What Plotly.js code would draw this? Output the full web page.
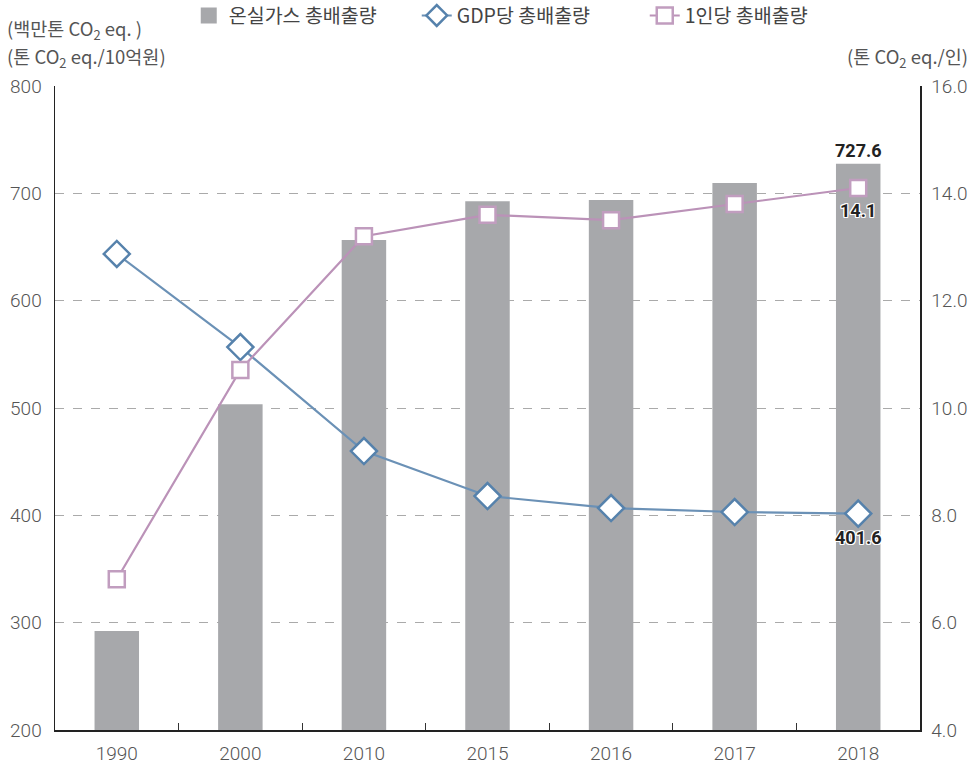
<!DOCTYPE html>
<html>
<head>
<meta charset="utf-8">
<script src="https://cdn.plot.ly/plotly-3.0.1.min.js"></script>
<style>
html,body{margin:0;padding:0;background:#fff;}
#chart{width:978px;height:768px;}
</style>
</head>
<body>
<div id="chart"></div>
<script>
const years = ['1990','2000','2010','2015','2016','2017','2018'];
const totalEmissions = [292.2, 503.5, 656.5, 692.6, 693.7, 709.6, 727.6];
const gdpIntensity = [643.5, 556.8, 459.9, 418.0, 406.8, 403.1, 401.6];
const perCapita = [6.81, 10.71, 13.2, 13.6, 13.5, 13.8, 14.1];
const leftTicks = [200, 300, 400, 500, 600, 700, 800];
const rightTicks = [4, 6, 8, 10, 12, 14, 16];
const rightTickText = ['4.0','6.0','8.0','10.0','12.0','14.0','16.0'];

const fontKR = '"Noto Sans CJK KR", Roboto, sans-serif';
const fontNum = 'Roboto, sans-serif';
const halo = '1px 1px 0px #fff, -1px -1px 0px #fff, 1px -1px 0px #fff, -1px 1px 0px #fff, 0px 1px 0px #fff, 0px -1px 0px #fff, 1px 0px 0px #fff, -1px 0px 0px #fff';
const last = years.length - 1;

const traces = [
  {
    type: 'bar', x: years, y: totalEmissions, name: '온실가스 총배출량',
    marker: {color: '#a7a8ab'}, yaxis: 'y', showlegend: false
  },
  {
    type: 'scatter', mode: 'markers', x: [null], y: [null], name: '온실가스 총배출량',
    marker: {symbol: 'square', size: 16, color: '#a7a8ab'}, yaxis: 'y', showlegend: true
  },
  {
    type: 'scatter', mode: 'lines+markers', x: years, y: gdpIntensity, name: 'GDP당 총배출량',
    line: {color: '#6b91b6', width: 2.2},
    marker: {symbol: 'diamond', size: 20, color: '#ffffff', line: {color: '#5682ac', width: 2.5}},
    yaxis: 'y'
  },
  {
    type: 'scatter', mode: 'lines+markers', x: years, y: perCapita, name: '1인당 총배출량',
    line: {color: '#bb92b8', width: 2.2},
    marker: {symbol: 'square', size: 16, color: '#ffffff', line: {color: '#c19dbf', width: 2.5}},
    yaxis: 'y2'
  }
];

const layout = {
  width: 978, height: 768,
  margin: {l: 55, r: 58, t: 86, b: 38, autoexpand: false},
  paper_bgcolor: '#ffffff', plot_bgcolor: '#ffffff',
  font: {family: fontKR, color: '#555555', size: 17},
  bargap: 0.64,
  showlegend: true,
  legend: {
    orientation: 'h', x: 0.55, xanchor: 'center', y: 1.109, yanchor: 'middle',
    font: {family: fontKR, size: 19.5, color: '#444444'},
    itemwidth: 30, traceorder: 'normal',
    entrywidth: 183, entrywidthmode: 'pixels'
  },
  xaxis: {
    type: 'category', range: [-0.5, years.length - 0.5],
    tickson: 'boundaries', ticks: 'inside', ticklen: 7, tickcolor: '#333',
    showline: true, linecolor: '#222', linewidth: 1.5, showgrid: false,
    ticklabelstandoff: 6,
    tickfont: {family: fontNum, size: 19, color: '#555', weight: 300},
    fixedrange: true
  },
  yaxis: {
    range: [200, 800], tickvals: leftTicks, showline: true, linecolor: '#222', linewidth: 1.5,
    showgrid: true, gridcolor: '#aaaaaa', griddash: 'dash', gridwidth: 1,
    ticks: '', zeroline: false, ticklabelstandoff: 8,
    tickfont: {family: fontNum, size: 19, color: '#555', weight: 300}
  },
  yaxis2: {
    range: [4, 16], tickvals: rightTicks, ticktext: rightTickText, overlaying: 'y', side: 'right',
    showline: true, linecolor: '#222', linewidth: 1.5, showgrid: false, zeroline: false, ticks: '',
    ticklabelstandoff: 6,
    tickfont: {family: fontNum, size: 19, color: '#555', weight: 300}
  },
  annotations: [
    {xref: 'paper', yref: 'paper', x: -0.058, y: 1.0885, xanchor: 'left', yanchor: 'middle', showarrow: false,
     text: '(백만톤 CO<sub>2</sub> eq. )', font: {family: fontKR, size: 18.5, color: '#555'}},
    {xref: 'paper', yref: 'paper', x: -0.058, y: 1.045, xanchor: 'left', yanchor: 'middle', showarrow: false,
     text: '(톤 CO<sub>2</sub> eq./10억원)', font: {family: fontKR, size: 18.5, color: '#555'}},
    {xref: 'paper', yref: 'paper', x: 1.058, y: 1.045, xanchor: 'right', yanchor: 'middle', showarrow: false,
     text: '(톤 CO<sub>2</sub> eq./인)', font: {family: fontKR, size: 18.5, color: '#555'}},
    {xref: 'x', yref: 'y', x: last, y: totalEmissions[last], yanchor: 'bottom', yshift: 1, showarrow: false,
     text: '<b>' + totalEmissions[last].toFixed(1) + '</b>', font: {family: fontNum, size: 18, color: '#222'}},
    {xref: 'x', yref: 'y2', x: last, y: perCapita[last], yanchor: 'top', yshift: -10, showarrow: false,
     text: '<b>' + perCapita[last].toFixed(1) + '</b>', font: {family: fontNum, size: 18, color: '#222', shadow: halo}},
    {xref: 'x', yref: 'y', x: last, y: gdpIntensity[last], yanchor: 'top', yshift: -11, showarrow: false,
     text: '<b>' + gdpIntensity[last].toFixed(1) + '</b>', font: {family: fontNum, size: 18, color: '#222', shadow: halo}}
  ]
};

Plotly.newPlot('chart', traces, layout, {displayModeBar: false, staticPlot: true});
</script>
</body>
</html>
